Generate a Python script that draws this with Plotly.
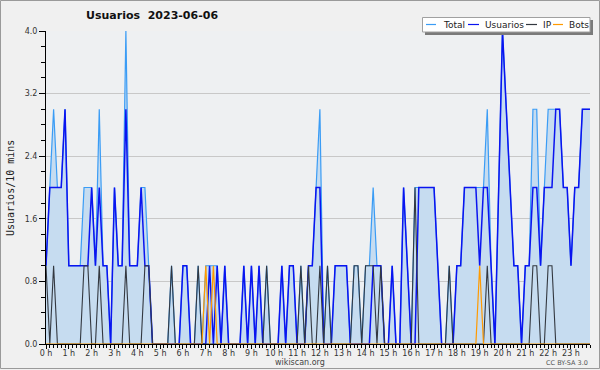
import plotly.graph_objects as go

# 10-minute slots, 0:00 .. 23:50 (144 values)
total = [
    1, 2, 3, 2, 2, 3, 1, 1, 1, 1, 2, 2,
    2, 1, 3, 1, 1, 0, 2, 1, 1, 4, 1, 1,
    1, 2, 2, 1, 0, 0, 0, 0, 0, 1, 0, 0,
    1, 1, 0, 0, 1, 0, 1, 1, 1, 1, 0, 1,
    0, 0, 0, 0, 1, 0, 1, 0, 1, 0, 1, 0,
    0, 0, 1, 0, 1, 1, 0, 1, 0, 1, 1, 2,
    3, 0, 1, 0, 1, 1, 1, 1, 0, 1, 1, 0,
    1, 1, 2, 1, 1, 0, 0, 1, 0, 0, 2, 1,
    0, 2, 2, 2, 2, 2, 2, 1, 0, 0, 1, 0,
    1, 1, 2, 2, 2, 2, 2, 2, 3, 1, 0, 2,
    4, 3, 2, 1, 1, 0, 1, 1, 3, 3, 1, 2,
    3, 3, 3, 3, 2, 2, 1, 2, 2, 3, 3, 3,
]
usuarios = [
    1, 2, 2, 2, 2, 3, 1, 1, 1, 1, 1, 1,
    2, 1, 2, 1, 1, 0, 2, 1, 1, 3, 1, 1,
    1, 2, 1, 1, 0, 0, 0, 0, 0, 0, 0, 0,
    1, 1, 0, 0, 0, 0, 0, 1, 0, 1, 0, 1,
    0, 0, 0, 0, 1, 0, 1, 0, 1, 0, 0, 0,
    0, 0, 1, 0, 1, 1, 0, 0, 0, 1, 1, 2,
    2, 0, 0, 0, 1, 1, 1, 1, 0, 0, 0, 0,
    0, 0, 1, 1, 1, 0, 0, 1, 0, 0, 2, 1,
    0, 0, 2, 2, 2, 2, 2, 1, 0, 0, 0, 0,
    1, 1, 2, 2, 2, 2, 1, 2, 2, 1, 0, 2,
    4, 3, 2, 1, 1, 0, 1, 1, 2, 2, 1, 2,
    2, 2, 3, 3, 2, 2, 1, 2, 2, 3, 3, 3,
]
ip = [
    1, 0, 1, 0, 0, 0, 0, 0, 0, 0, 1, 1,
    0, 0, 1, 0, 0, 0, 0, 0, 0, 1, 0, 0,
    0, 0, 1, 1, 0, 0, 0, 0, 0, 1, 0, 0,
    0, 0, 0, 0, 1, 0, 0, 0, 0, 0, 0, 0,
    0, 0, 0, 0, 0, 0, 0, 0, 0, 0, 1, 0,
    0, 0, 0, 0, 0, 0, 0, 1, 0, 1, 0, 0,
    1, 0, 1, 0, 0, 0, 0, 0, 0, 1, 1, 0,
    1, 1, 1, 0, 1, 0, 0, 0, 0, 0, 0, 0,
    0, 2, 0, 0, 0, 0, 0, 0, 0, 0, 1, 0,
    0, 0, 0, 0, 0, 0, 0, 0, 1, 0, 0, 0,
    0, 0, 0, 0, 0, 0, 0, 0, 1, 1, 0, 0,
    1, 1, 0, 0, 0, 0, 0, 0, 0, 0, 0, 0,
]
bots = [
    0, 0, 0, 0, 0, 0, 0, 0, 0, 0, 0, 0,
    0, 0, 0, 0, 0, 0, 0, 0, 0, 0, 0, 0,
    0, 0, 0, 0, 0, 0, 0, 0, 0, 0, 0, 0,
    0, 0, 0, 0, 0, 0, 1, 0, 1, 0, 0, 0,
    0, 0, 0, 0, 0, 0, 0, 0, 0, 0, 0, 0,
    0, 0, 0, 0, 0, 0, 0, 0, 0, 0, 0, 0,
    0, 0, 0, 0, 0, 0, 0, 0, 0, 0, 0, 0,
    0, 0, 0, 0, 0, 0, 0, 0, 0, 0, 0, 0,
    0, 0, 0, 0, 0, 0, 0, 0, 0, 0, 0, 0,
    0, 0, 0, 0, 0, 0, 1, 0, 0, 0, 0, 0,
    0, 0, 0, 0, 0, 0, 0, 0, 0, 0, 0, 0,
    0, 0, 0, 0, 0, 0, 0, 0, 0, 0, 0, 0,
]
hour_labels = ["0 h", "1 h", "2 h", "3 h", "4 h", "5 h", "6 h", "7 h",
               "8 h", "9 h", "10 h", "11 h", "12 h", "13 h", "14 h", "15 h",
               "16 h", "17 h", "18 h", "19 h", "20 h", "21 h", "22 h", "23 h"]
y_ticks = [0.0, 0.8, 1.6, 2.4, 3.2, 4.0]
y_ticklabels = ["0.0", "0.8", "1.6", "2.4", "3.2", "4.0"]

slots = list(range(len(total)))
hour_pos = slots[::6]

W, H = 600, 370
ML, MR, MT, MB = 46, 10, 31, 26
PW, PH = W - ML - MR, H - MT - MB


def xp(px):
    return (px - ML) / PW


def yp(py):
    return (H - MB - py) / PH


fig = go.Figure()
fig.add_trace(go.Scatter(x=slots, y=total, mode="lines", name="Total",
                         line=dict(color="#3a9cf5", width=1.2),
                         fill="tozeroy", fillcolor="#c6dcf0"))
fig.add_trace(go.Scatter(x=slots, y=usuarios, mode="lines", name="Usuarios",
                         line=dict(color="#0a14f0", width=1.5)))
fig.add_trace(go.Scatter(x=slots, y=ip, mode="lines", name="IP",
                         line=dict(color="#333840", width=1.1)))
fig.add_trace(go.Scatter(x=slots, y=bots, mode="lines", name="Bots",
                         line=dict(color="#ff9a00", width=1.2)))

font = "DejaVu Sans"
fig.update_layout(
    width=W, height=H,
    margin=dict(l=ML, r=MR, t=MT, b=MB, pad=0),
    paper_bgcolor="#f0f0f0", plot_bgcolor="#eef0f2",
    showlegend=False,
    font=dict(family=font, size=8, color="#222"),
    xaxis=dict(range=[0, len(total) - 1], tickmode="array",
               tickvals=hour_pos, ticktext=hour_labels,
               ticks="outside", ticklen=4, tickcolor="black", tickwidth=1,
               ticklabelstandoff=-3,
               showline=True, linecolor="black", linewidth=1,
               showgrid=False, zeroline=False,
               tickfont=dict(family=font, size=8, color="#333"),
               minor=dict(tickvals=slots, ticks="outside", ticklen=3,
                          tickcolor="black", showgrid=False)),
    yaxis=dict(range=[0, 4], tickmode="array", tickvals=y_ticks,
               ticktext=y_ticklabels,
               ticks="outside", ticklen=6, tickcolor="black",
               showline=True, linecolor="black", linewidth=1,
               showgrid=True, gridcolor="#c8c8c8", gridwidth=1,
               zeroline=False,
               tickfont=dict(family=font, size=8, color="#333"),
               minor=dict(dtick=0.2, tick0=0, ticks="outside", ticklen=4,
                          tickcolor="black", showgrid=False)),
)

shapes = []
# outer frame
shapes.append(dict(type="rect", xref="paper", yref="paper",
                   x0=xp(0.5), x1=xp(599.5), y0=yp(368.5), y1=yp(0.5),
                   line=dict(color="#9a9a9a", width=1), layer="below"))
# legend shadow and box
shapes.append(dict(type="rect", xref="paper", yref="paper",
                   x0=xp(425), x1=xp(593), y0=yp(35), y1=yp(20),
                   line=dict(width=0), fillcolor="#7a7a7a", layer="above"))
shapes.append(dict(type="rect", xref="paper", yref="paper",
                   x0=xp(422.5), x1=xp(590), y0=yp(32), y1=yp(17.5),
                   line=dict(color="#a0a0a0", width=1), fillcolor="white",
                   layer="above"))
legend_items = [("Total", "#3a9cf5", 426, 436, 440.5),
                ("Usuarios", "#0a14f0", 468, 479, 482.5),
                ("IP", "#333840", 526, 537, 540.5),
                ("Bots", "#ff9a00", 553, 563, 566.5)]
annotations = []
for name, col, lx0, lx1, tx in legend_items:
    shapes.append(dict(type="line", xref="paper", yref="paper",
                       x0=xp(lx0), x1=xp(lx1), y0=yp(24.5), y1=yp(24.5),
                       line=dict(color=col, width=1.2), layer="above"))
    annotations.append(dict(text=name, xref="paper", yref="paper",
                            x=xp(tx), y=yp(24.5), xanchor="left", yanchor="middle",
                            showarrow=False,
                            font=dict(family=font, size=9, color="#222")))

annotations.append(dict(text="<b>Usuarios\u00a0 2023-06-06</b>", xref="paper", yref="paper",
                        x=xp(84), y=yp(16), xanchor="left", yanchor="middle",
                        showarrow=False,
                        font=dict(family=font, size=11, color="#111")))
annotations.append(dict(text="Usuarios/10 mins", xref="paper", yref="paper",
                        x=xp(10), y=yp(188), xanchor="center", yanchor="middle",
                        textangle=-90, showarrow=False,
                        font=dict(family="DejaVu Sans Mono", size=10, color="#222")))
annotations.append(dict(text="wikiscan.org", xref="paper", yref="paper",
                        x=xp(300), y=yp(362.5), xanchor="center", yanchor="middle",
                        showarrow=False,
                        font=dict(family=font, size=8, color="#444")))
annotations.append(dict(text="CC BY-SA 3.0", xref="paper", yref="paper",
                        x=xp(590), y=yp(363), xanchor="right", yanchor="middle",
                        showarrow=False,
                        font=dict(family=font, size=6.5, color="#555")))

fig.update_layout(shapes=shapes, annotations=annotations)
fig.write_html("out.html")
